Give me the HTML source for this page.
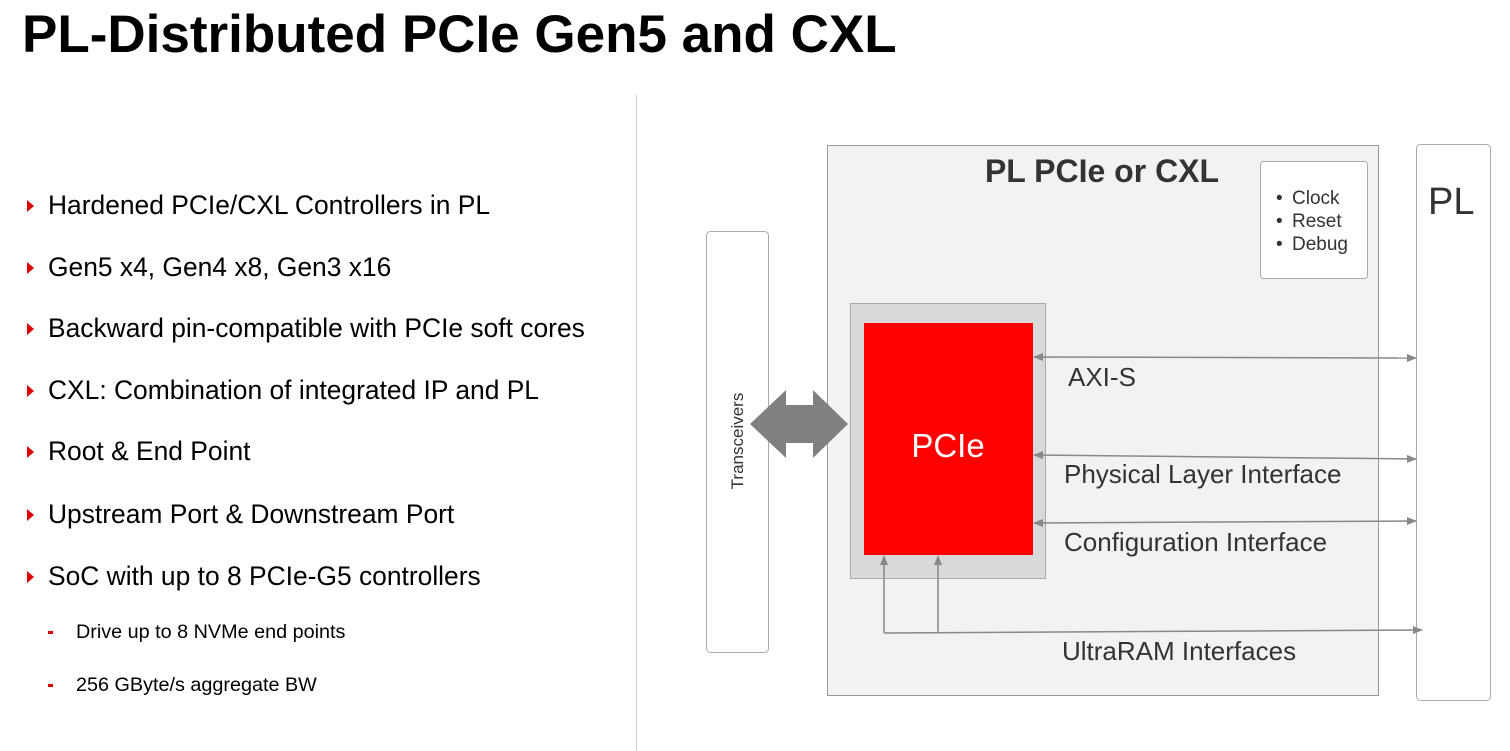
<!DOCTYPE html>
<html><head><meta charset="utf-8"><style>
body{margin:0;width:1510px;height:751px;background:#fff;position:relative;overflow:hidden;font-family:"Liberation Sans",sans-serif;color:#000}
.t{position:absolute;white-space:nowrap}
.b{position:absolute;left:27px;width:0;height:0;border-top:6px solid transparent;border-bottom:6px solid transparent;border-left:7px solid #d00}
.d{position:absolute;left:48px;width:5px;height:3px;background:#d00}
.m{font-size:26.4px}
.s{font-size:19.8px}
</style></head><body>
<div class="t" style="left:22px;top:4px;font-size:53px;font-weight:bold;">PL-Distributed PCIe Gen5 and CXL</div>
<div style="position:absolute;left:636px;top:95px;width:1px;height:656px;background:#ccc"></div>

<div class="b" style="top:200px"></div><div class="t m" style="left:48px;top:190px">Hardened PCIe/CXL Controllers in PL</div>
<div class="b" style="top:262px"></div><div class="t m" style="left:48px;top:252px">Gen5 x4, Gen4 x8, Gen3 x16</div>
<div class="b" style="top:323px"></div><div class="t m" style="left:48px;top:313px">Backward pin-compatible with PCIe soft cores</div>
<div class="b" style="top:385px"></div><div class="t m" style="left:48px;top:375px">CXL: Combination of integrated IP and PL</div>
<div class="b" style="top:446px"></div><div class="t m" style="left:48px;top:436px">Root &amp; End Point</div>
<div class="b" style="top:509px"></div><div class="t m" style="left:48px;top:499px">Upstream Port &amp; Downstream Port</div>
<div class="b" style="top:571px"></div><div class="t m" style="left:48px;top:561px">SoC with up to 8 PCIe-G5 controllers</div>
<div class="d" style="top:631px"></div><div class="t s" style="left:76px;top:621px">Drive up to 8 NVMe end points</div>
<div class="d" style="top:684px"></div><div class="t s" style="left:76px;top:674px">256 GByte/s aggregate BW</div>

<svg style="position:absolute;left:0;top:0" width="1510" height="751" font-family="Liberation Sans, sans-serif">
<defs><marker id="a" markerWidth="10" markerHeight="8" refX="9" refY="4" orient="auto-start-reverse" markerUnits="userSpaceOnUse"><path d="M0,0L10,4L0,8z" fill="#888"/></marker></defs>
<rect x="827.5" y="145.5" width="551" height="550" fill="#f2f2f2" stroke="#999"/>
<text x="1102" y="182" text-anchor="middle" font-size="32" font-weight="bold" fill="#333">PL PCIe or CXL</text>
<rect x="1260.5" y="161.5" width="107" height="117" rx="3" fill="#fff" stroke="#aaa"/>
<g font-size="19" fill="#333"><text x="1276" y="204">•</text><text x="1292" y="204">Clock</text>
<text x="1276" y="227">•</text><text x="1292" y="227">Reset</text>
<text x="1276" y="250">•</text><text x="1292" y="250">Debug</text></g>
<rect x="1416.5" y="144.5" width="74" height="556" rx="4" fill="#fff" stroke="#aaa"/>
<text x="1428" y="214" font-size="38" fill="#333">PL</text>
<rect x="706.5" y="231.5" width="62" height="421" rx="4" fill="#fff" stroke="#aaa"/>
<text transform="translate(743,441) rotate(-90)" text-anchor="middle" font-size="17" fill="#333">Transceivers</text>
<rect x="850.5" y="303.5" width="195" height="275" fill="#d9d9d9" stroke="#aaa"/>
<rect x="864" y="323" width="169" height="232" fill="#f00"/>
<text x="948" y="457" text-anchor="middle" font-size="33" fill="#fff">PCIe</text>
<path d="M750,424 L786,390 L786,405 L813,405 L813,390 L848,424 L813,458 L813,443 L786,443 L786,458 Z" fill="#808080"/>
<g stroke="#888" stroke-width="1.5" fill="none">
<line x1="1034" y1="357" x2="1416" y2="358" marker-start="url(#a)" marker-end="url(#a)"/>
<line x1="1034" y1="455" x2="1416" y2="459" marker-start="url(#a)" marker-end="url(#a)"/>
<line x1="1034" y1="523" x2="1416" y2="521" marker-start="url(#a)" marker-end="url(#a)"/>
<line x1="884" y1="633" x2="1422" y2="630" marker-end="url(#a)"/>
<line x1="884" y1="633" x2="884" y2="556" marker-end="url(#a)"/>
<line x1="938" y1="633" x2="938" y2="556" marker-end="url(#a)"/>
</g>
<g font-size="26" fill="#333">
<text x="1068" y="386">AXI-S</text>
<text x="1064" y="483">Physical Layer Interface</text>
<text x="1064" y="551">Configuration Interface</text>
<text x="1062" y="660">UltraRAM Interfaces</text></g>
</svg>
</body></html>
